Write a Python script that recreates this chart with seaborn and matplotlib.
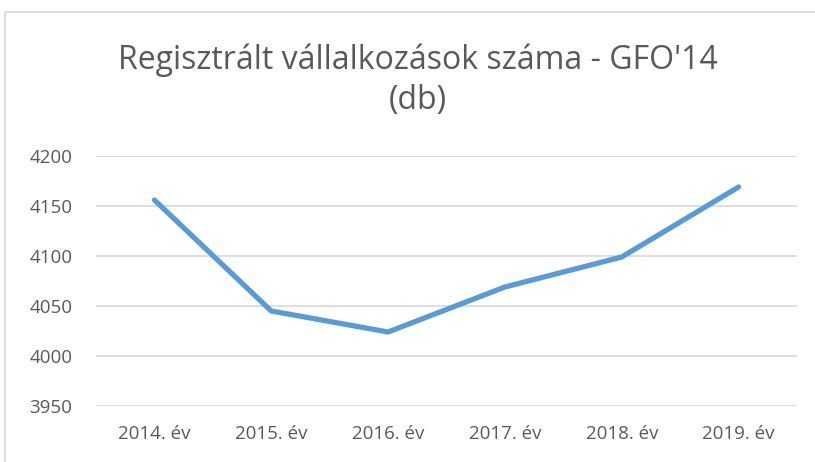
import pandas as pd
import seaborn as sns
import matplotlib.pyplot as plt
from matplotlib.patches import Rectangle

years = ['2014. év', '2015. év', '2016. év', '2017. év', '2018. év', '2019. év']
counts = [4156, 4045, 4024, 4069, 4099, 4169]
yticks = [3950, 4000, 4050, 4100, 4150, 4200]

sns.set_theme(style="white")
plt.rcParams['font.family'] = ['Open Sans', 'DejaVu Sans']

df = pd.DataFrame({'year': years, 'count': counts})

fig = plt.figure(figsize=(8.15, 4.62), dpi=100)
ax = fig.add_axes([96 / 815, 1 - 406 / 462, 701 / 815, 250 / 462])

sns.lineplot(data=df, x='year', y='count', ax=ax, color='#5B9BD5',
             linewidth=3.8, solid_capstyle='round', solid_joinstyle='round',
             sort=False)

ax.set_xlim(-0.5, len(years) - 0.5)
ax.set_ylim(yticks[0], yticks[-1])
ax.set_yticks(yticks)
ax.yaxis.grid(True, color='#d9d9d9', linewidth=1.2)
ax.set_axisbelow(True)
for s in ax.spines.values():
    s.set_visible(False)
ax.set_xlabel('')
ax.set_ylabel('')
ax.tick_params(axis='both', length=0, labelsize=13.5, labelcolor='#595959')
ax.tick_params(axis='y', pad=17)
ax.tick_params(axis='x', pad=14)

fig.text(418 / 815, 1 - 60 / 462, "Regisztrált vállalkozások száma - GFO'14",
         ha='center', va='center', fontsize=23, color='#595959')
fig.text(418 / 815, 1 - 101 / 462, "(db)",
         ha='center', va='center', fontsize=23, color='#595959')

# chart frame (cropped at right and bottom)
fig.patches.append(Rectangle((5 / 815, -0.1), 1.1, 1.1 - 12 / 462,
                             transform=fig.transFigure, fill=False,
                             edgecolor='#d9d9d9', linewidth=1.2))

fig.savefig('out.png', dpi=100)
